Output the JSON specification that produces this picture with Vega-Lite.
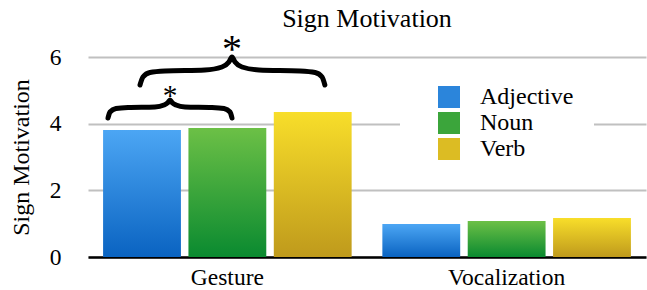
{
  "$schema": "https://vega.github.io/schema/vega-lite/v6.json",
  "autosize": {"type": "none"},
  "padding": {"left": 88, "top": 57, "right": 1, "bottom": 33},
  "width": 558,
  "height": 200,
  "background": "white",
  "config": {
    "font": "Liberation Serif",
    "view": {"stroke": null}
  },
  "title": {"text": "Sign Motivation", "fontSize": 26, "fontWeight": "normal", "color": "black", "font": "Liberation Serif", "anchor": "middle", "baseline": "alphabetic", "offset": -23},
  "datasets": {
    "bars": [
      {"group": "Gesture", "category": "Adjective", "value": 3.81},
      {"group": "Gesture", "category": "Noun", "value": 3.87},
      {"group": "Gesture", "category": "Verb", "value": 4.35},
      {"group": "Vocalization", "category": "Adjective", "value": 0.99},
      {"group": "Vocalization", "category": "Noun", "value": 1.08},
      {"group": "Vocalization", "category": "Verb", "value": 1.17}
    ],
    "braces": [
      {"brace": "big", "u": 0.1864, "v": 5.16},
      {"brace": "big", "u": 0.197, "v": 5.40},
      {"brace": "big", "u": 0.222, "v": 5.535},
      {"brace": "big", "u": 0.276, "v": 5.58},
      {"brace": "big", "u": 0.419, "v": 5.61},
      {"brace": "big", "u": 0.480, "v": 5.70},
      {"brace": "big", "u": 0.505, "v": 5.85},
      {"brace": "big", "u": 0.516, "v": 6.0},
      {"brace": "big", "u": 0.527, "v": 5.85},
      {"brace": "big", "u": 0.552, "v": 5.70},
      {"brace": "big", "u": 0.613, "v": 5.61},
      {"brace": "big", "u": 0.760, "v": 5.58},
      {"brace": "big", "u": 0.814, "v": 5.535},
      {"brace": "big", "u": 0.839, "v": 5.40},
      {"brace": "big", "u": 0.849, "v": 5.16},
      {"brace": "small", "u": 0.0717, "v": 4.17},
      {"brace": "small", "u": 0.0789, "v": 4.35},
      {"brace": "small", "u": 0.1004, "v": 4.455},
      {"brace": "small", "u": 0.1434, "v": 4.485},
      {"brace": "small", "u": 0.240, "v": 4.50},
      {"brace": "small", "u": 0.2724, "v": 4.56},
      {"brace": "small", "u": 0.2867, "v": 4.635},
      {"brace": "small", "u": 0.294, "v": 4.71},
      {"brace": "small", "u": 0.3011, "v": 4.635},
      {"brace": "small", "u": 0.3154, "v": 4.56},
      {"brace": "small", "u": 0.3477, "v": 4.50},
      {"brace": "small", "u": 0.4444, "v": 4.485},
      {"brace": "small", "u": 0.4875, "v": 4.455},
      {"brace": "small", "u": 0.509, "v": 4.35},
      {"brace": "small", "u": 0.5161, "v": 4.17}
    ],
    "stars": [
      {"u": 0.516, "v": 5.84, "label": "*", "size": 36},
      {"u": 0.294, "v": 4.575, "label": "*", "size": 24}
    ]
  },
  "layer": [
    {
      "data": {"name": "bars"},
      "encoding": {
        "x": {
          "field": "group", "type": "nominal",
          "scale": {"paddingInner": 0.11, "paddingOuter": 0.054},
          "axis": {"title": null, "labelAngle": 0, "labelFontSize": 23.5, "labelColor": "black", "labelPadding": 8, "ticks": false, "domainColor": "black", "domainWidth": 2.5, "labelFont": "Liberation Serif"}
        },
        "xOffset": {"field": "category", "type": "nominal", "scale": {"domain": ["Adjective", "Noun", "Verb"], "paddingInner": 0.088, "paddingOuter": 0}},
        "y": {
          "field": "value", "type": "quantitative",
          "scale": {"domain": [0, 6], "nice": false, "zero": true},
          "axis": {"title": "Sign Motivation", "titleFontSize": 24, "titleFontWeight": "normal", "titleColor": "black", "titlePadding": 16, "titleFont": "Liberation Serif", "values": [0, 2, 4, 6], "labelFontSize": 23.5, "labelColor": "black", "labelPadding": 27, "labelFont": "Liberation Serif", "ticks": false, "domain": false, "grid": true, "gridColor": "#c0c0c0", "gridWidth": 2}
        }
      },
      "layer": [
        {
          "mark": {"type": "bar", "opacity": 0},
          "encoding": {
            "color": {
              "field": "category", "type": "nominal",
              "scale": {"domain": ["Adjective", "Noun", "Verb"], "range": ["#2b85db", "#3ba53b", "#dcbc23"]},
              "legend": {
                "title": null, "orient": "none", "legendX": 312, "legendY": 8,
                "fillColor": "white", "padding": 20, "symbolOffset": 17,
                "symbolType": "square", "symbolSize": 484, "symbolStrokeWidth": 0, "symbolOpacity": 1,
                "labelFontSize": 24, "labelColor": "black", "labelFont": "Liberation Serif", "labelOffset": 19,
                "rowPadding": 2, "labelLimit": 300,
                "encode": {
                  "symbols": {
                    "update": {
                      "opacity": {"value": 1},
                      "fill": [
                        {"test": "datum.value === 'Adjective'", "value": {"gradient": "linear", "x1": 0, "y1": 0, "x2": 0, "y2": 1, "stops": [{"offset": 0, "color": "#4ca6f4"}, {"offset": 1, "color": "#0a63c1"}]}},
                        {"test": "datum.value === 'Noun'", "value": {"gradient": "linear", "x1": 0, "y1": 0, "x2": 0, "y2": 1, "stops": [{"offset": 0, "color": "#6cc046"}, {"offset": 1, "color": "#0a8a30"}]}},
                        {"value": {"gradient": "linear", "x1": 0, "y1": 0, "x2": 0, "y2": 1, "stops": [{"offset": 0, "color": "#f8de2a"}, {"offset": 1, "color": "#bf9a1c"}]}}
                      ]
                    }
                  }
                }
              }
            }
          }
        },
        {
          "mark": {"type": "bar"},
          "encoding": {
            "color": {
              "condition": [
                {"test": "datum.category === 'Adjective'", "value": {"gradient": "linear", "x1": 0, "y1": 0, "x2": 0, "y2": 1, "stops": [{"offset": 0, "color": "#4ca6f4"}, {"offset": 1, "color": "#0a63c1"}]}},
                {"test": "datum.category === 'Noun'", "value": {"gradient": "linear", "x1": 0, "y1": 0, "x2": 0, "y2": 1, "stops": [{"offset": 0, "color": "#6cc046"}, {"offset": 1, "color": "#0a8a30"}]}}
              ],
              "value": {"gradient": "linear", "x1": 0, "y1": 0, "x2": 0, "y2": 1, "stops": [{"offset": 0, "color": "#f8de2a"}, {"offset": 1, "color": "#bf9a1c"}]}
            }
          }
        }
      ]
    },
    {
      "data": {"name": "braces"},
      "mark": {"type": "line", "interpolate": "monotone", "color": "black", "strokeWidth": 5, "strokeCap": "round"},
      "encoding": {
        "x": {"field": "u", "type": "quantitative", "scale": {"domain": [0, 2], "nice": false, "zero": false}, "axis": null},
        "y": {"field": "v", "type": "quantitative"},
        "detail": {"field": "brace", "type": "nominal"}
      }
    },
    {
      "data": {"name": "stars"},
      "mark": {"type": "text", "color": "black", "baseline": "alphabetic", "align": "center", "font": "Liberation Serif"},
      "encoding": {
        "x": {"field": "u", "type": "quantitative", "scale": {"domain": [0, 2], "nice": false, "zero": false}, "axis": null},
        "y": {"field": "v", "type": "quantitative"},
        "text": {"field": "label"},
        "size": {"field": "size", "type": "quantitative", "scale": {"type": "identity"}, "legend": null}
      }
    }
  ],
  "resolve": {"scale": {"x": "independent"}, "axis": {"x": "independent"}}
}
